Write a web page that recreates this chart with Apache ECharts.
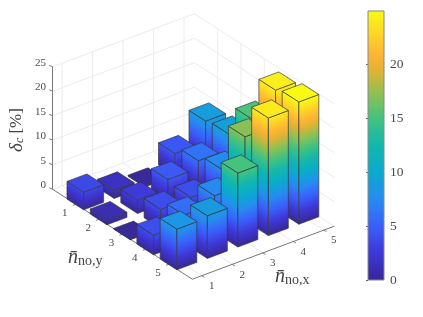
<!DOCTYPE html>
<html><head><meta charset="utf-8">
<style>html,body{margin:0;padding:0;background:#fff}#c{width:423px;height:317px}</style>
<script src="https://cdn.jsdelivr.net/npm/echarts@6/dist/echarts.min.js"></script>
</head><body><div id="c"></div>
<script>
const xTicks=[1,2,3,4,5];
const yTicks=[1,2,3,4,5];
const zTicks=[0,5,10,15,20,25];
const colorbarTicks=[0,5,10,15,20];
const row1=[3.6,1.7,0.2,4.5,8.8];
const row2=[1.05,2.7,4.6,6.1,9.2];
const row3=[0.1,3.9,4.0,7.4,15.3];
const row4=[4.0,5.8,7.4,17.1,24.3];
const row5=[8.3,8.7,15.1,24.0,24.95];
const rows=[row1,row2,row3,row4,row5];
const colorLimit=24.95;
const cmapStops=[[0,[56,40,150]],[2.5,[62,55,215]],[5,[58,95,250]],[7.5,[38,140,240]],[10,[10,170,205]],[12.5,[18,183,172]],[15,[66,194,128]],[17.5,[150,192,78]],[19.5,[228,178,52]],[21,[254,182,52]],[23,[253,216,36]],[25,[249,251,20]]];

function cmap(v){
  if(v<=cmapStops[0][0])return rgb(cmapStops[0][1]);
  for(let i=1;i<cmapStops.length;i++){
    if(v<=cmapStops[i][0]){
      const a=cmapStops[i-1],b=cmapStops[i],t=(v-a[0])/(b[0]-a[0]);
      return rgb(a[1].map((c,k)=>c+(b[1][k]-c)*t));
    }
  }
  return rgb(cmapStops[cmapStops.length-1][1]);
}
function rgb(c){return 'rgb('+c.map(Math.round).join(',')+')';}

// Orthographic view of the 3D box
const xLim=[0.69,5.34], yLim=[0,6], zLim=[0,25];
const view={ox:85.3,oy:200.7,xu:[30.5,-11.4],yu:[23.3,15],zu:-4.9};
const halfX=0.327, halfY=0.358;
function proj(x,y,z){
  return [view.ox+(x-1)*view.xu[0]+(y-1)*view.yu[0],
          view.oy+(x-1)*view.xu[1]+(y-1)*view.yu[1]+z*view.zu];
}

const barData=[];
for(let xi=xTicks.length-1;xi>=0;xi--){
  for(let yi=0;yi<yTicks.length;yi++){
    barData.push([xTicks[xi],yTicks[yi],rows[yi][xi]]);
  }
}
const edge='rgba(52,52,62,0.8)';
function sideGradient(a,b,h){
  // colour isolines follow the ground edge a-b
  const ex=b[0]-a[0],ey=b[1]-a[1],len=Math.hypot(ex,ey);
  const nx=ey/len,ny=-ex/len;
  const d=(h*view.zu)*ny;
  const px=nx*d,py=ny*d;
  const stops=[];
  for(const s of cmapStops){ if(s[0]<h) stops.push({offset:s[0]/h,color:rgb(s[1])}); }
  stops.push({offset:1,color:cmap(h)});
  return new echarts.graphic.LinearGradient(a[0],a[1],a[0]+px,a[1]+py,stops,true);
}
function renderBar(params,api){
  const x=api.value(0),y=api.value(1),h=api.value(2);
  const P=(a,b,c)=>api.coord(proj(a,b,c));
  const x0=x-halfX,x1=x+halfX,y0=y-halfY,y1=y+halfY;
  const lb=P(x0,y0,0),fb=P(x0,y1,0),rb=P(x1,y1,0);
  const lt=P(x0,y0,h),ft=P(x0,y1,h),rt=P(x1,y1,h),bt=P(x1,y0,h);
  const st={stroke:edge,lineWidth:0.85,lineJoin:'round'};
  return {type:'group',children:[
    {type:'polygon',shape:{points:[lb,fb,ft,lt]},style:Object.assign({fill:sideGradient(lb,fb,h)},st)},
    {type:'polygon',shape:{points:[fb,rb,rt,ft]},style:Object.assign({fill:sideGradient(fb,rb,h)},st)},
    {type:'polygon',shape:{points:[lt,ft,rt,bt]},style:Object.assign({fill:cmap(h)},st)}
  ]};
}
function renderFrame(params,api){
  const P=(a,b,c)=>api.coord(proj(a,b,c));
  const kids=[];
  const line=(p,q,color,w)=>kids.push({type:'line',shape:{x1:p[0],y1:p[1],x2:q[0],y2:q[1]},style:{stroke:color,lineWidth:w}});
  const grid='#ececec';
  for(const z of zTicks){
    line(P(xLim[0],yLim[0],z),P(xLim[1],yLim[0],z),grid,1);
    line(P(xLim[1],yLim[0],z),P(xLim[1],yLim[1],z),grid,1);
  }
  for(const x of xTicks){
    line(P(x,yLim[0],0),P(x,yLim[0],zLim[1]),grid,1);
    line(P(x,yLim[0],0),P(x,yLim[1],0),grid,1);
  }
  for(const y of yTicks){
    line(P(xLim[1],y,0),P(xLim[1],y,zLim[1]),grid,1);
    line(P(xLim[0],y,0),P(xLim[1],y,0),grid,1);
  }
  const axis='#777';
  line(P(xLim[0],yLim[0],0),P(xLim[0],yLim[0],zLim[1]),axis,1);
  line(P(xLim[0],yLim[0],0),P(xLim[0],yLim[1],0),axis,1);
  line(P(xLim[0],yLim[1],0),P(xLim[1],yLim[1],0),axis,1);
  const tf='11px "Liberation Serif"', tc='#4a4a4a';
  const label=(t,p,dx,dy,align)=>kids.push({type:'text',style:{text:String(t),x:p[0]+dx,y:p[1]+dy,font:tf,fill:tc,align:align||'center',verticalAlign:'middle'}});
  for(const z of zTicks){
    const p=P(xLim[0],yLim[0],z);
    line(p,[p[0]-3.2,p[1]-1.4],axis,1);
    label(z,p,-6.5,-4,'right');
  }
  for(const x of xTicks){
    const p=P(x,yLim[1],0);
    line(p,[p[0]+2.6,p[1]+1.6],axis,1);
    label(x,p,10,10.5);
  }
  for(const y of yTicks){
    const p=P(xLim[0],y,0);
    line(p,[p[0]-3,p[1]+1.1],axis,1);
    label(y,p,-11,9);
  }
  return {type:'group',children:kids};
}
function renderColorbar(params,api){
  const a=api.coord([0,api.value(0)]),b=api.coord([0,api.value(1)]);
  const s=params.coordSys;
  const stops=[];
  for(const c of cmapStops){ if(c[0]<colorLimit) stops.push({offset:c[0]/colorLimit,color:rgb(c[1])}); }
  stops.push({offset:1,color:cmap(colorLimit)});
  return {type:'rect',shape:{x:s.x,y:b[1],width:s.width,height:a[1]-b[1]},
    style:{fill:new echarts.graphic.LinearGradient(0,1,0,0,stops)}};
}
const serif='"Liberation Serif"';
const chart=echarts.init(document.getElementById('c'),null,{renderer:'canvas'});
chart.setOption({
  animation:false,
  backgroundColor:'#fff',
  grid:[
    {left:0,top:0,width:423,height:317,show:false},
    {left:368,top:11,width:16,height:269,show:true,borderColor:'#888',borderWidth:1,backgroundColor:'transparent',z:5}
  ],
  xAxis:[
    {gridIndex:0,type:'value',min:0,max:423,show:false},
    {gridIndex:1,type:'value',min:0,max:1,show:false}
  ],
  yAxis:[
    {gridIndex:0,type:'value',min:0,max:317,inverse:true,show:false},
    {gridIndex:1,type:'value',min:0,max:colorLimit,position:'right',splitLine:{show:false},
      axisLine:{show:false},
      axisTick:{show:true,inside:true,length:2,lineStyle:{color:'#666',width:1},customValues:colorbarTicks},
      axisLabel:{show:true,margin:6,fontFamily:serif,fontSize:13.5,color:'#4a4a4a',customValues:colorbarTicks}}
  ],
  series:[
    {type:'custom',name:'frame',xAxisIndex:0,yAxisIndex:0,silent:true,clip:false,data:[[0,0]],renderItem:renderFrame,z:1},
    {type:'custom',name:'bars',xAxisIndex:0,yAxisIndex:0,silent:true,clip:false,data:barData,
      encode:{x:0,y:1},renderItem:renderBar,z:2},
    {type:'custom',name:'colorbar',xAxisIndex:1,yAxisIndex:1,silent:true,data:[[0,colorLimit]],
      encode:{y:[0,1]},renderItem:renderColorbar,z:3}
  ],
  graphic:[
    {type:'text',x:17,y:130,rotation:Math.PI/2,silent:true,style:{
      text:'{a|δ}{b|c}{d| [%]}',fill:'#444',align:'center',verticalAlign:'middle',
      rich:{a:{fontFamily:serif,fontStyle:'italic',fontSize:19,fill:'#444'},
            b:{fontFamily:serif,fontStyle:'italic',fontSize:12,fill:'#444',padding:[6,0,0,0]},
            d:{fontFamily:serif,fontSize:17,fill:'#444'}}}},
    {type:'text',x:68,y:258,silent:true,style:{
      text:'{a|n\u0304}{b|no,y}',fill:'#444',align:'left',verticalAlign:'middle',
      rich:{a:{fontFamily:serif,fontStyle:'italic',fontSize:20,fill:'#444'},
            b:{fontFamily:serif,fontSize:14,fill:'#444',padding:[7,0,0,0]}}}},
    {type:'text',x:275,y:277,silent:true,style:{
      text:'{a|n\u0304}{b|no,x}',fill:'#444',align:'left',verticalAlign:'middle',
      rich:{a:{fontFamily:serif,fontStyle:'italic',fontSize:20,fill:'#444'},
            b:{fontFamily:serif,fontSize:14,fill:'#444',padding:[7,0,0,0]}}}}
  ]
});
</script></body></html>
